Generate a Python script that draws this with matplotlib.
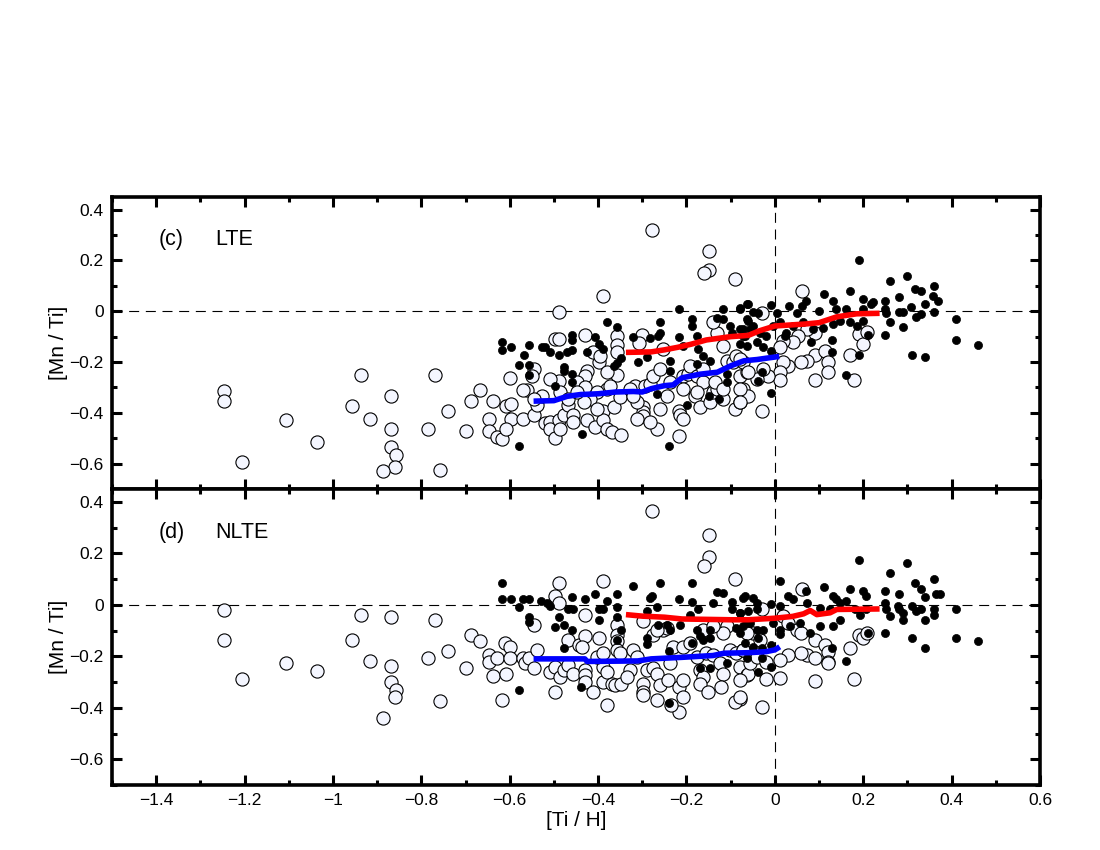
import matplotlib
matplotlib.use("Agg")
import matplotlib.pyplot as plt
from matplotlib.ticker import MultipleLocator, FuncFormatter

plt.rcParams['font.family'] = ['Liberation Sans', 'DejaVu Sans']

# ---------------- data: LTE panel (c) ----------------
lte_open = [
    (-1.247, -0.314), (-1.247, -0.353), (-1.205, -0.592), (-1.107, -0.430), (-1.037, -0.513),
    (-0.956, -0.373), (-0.937, -0.251), (-0.917, -0.424), (-0.868, -0.333), (-0.868, -0.463),
    (-0.868, -0.533), (-0.857, -0.565), (-0.859, -0.612), (-0.886, -0.631), (-0.786, -0.463),
    (-0.768, -0.251), (-0.757, -0.624), (-0.739, -0.392),
    (-0.279, 0.319), (-0.149, 0.239), (-0.149, 0.161), (-0.160, 0.150), (-0.090, 0.129),
    (-0.389, 0.059), (-0.488, -0.001), (-0.497, -0.111), (-0.488, -0.111), (-0.429, -0.092),
    (-0.358, -0.098), (-0.358, -0.131), (-0.358, -0.162), (-0.300, -0.092), (-0.308, -0.124),
    (-0.252, -0.149), (-0.399, -0.201), (-0.426, -0.234), (-0.430, -0.254), (-0.358, -0.250),
    (-0.448, -0.280), (-0.488, -0.276), (-0.546, -0.227), (-0.550, -0.254), (-0.561, -0.312),
    (-0.569, -0.312), (-0.599, -0.263), (-0.668, -0.312), (-0.688, -0.352), (-0.638, -0.352),
    (-0.608, -0.374), (-0.597, -0.365), (-0.597, -0.424), (-0.648, -0.424), (-0.648, -0.472),
    (-0.698, -0.472), (-0.629, -0.495), (-0.618, -0.502), (-0.608, -0.463), (-0.569, -0.424),
    (-0.546, -0.410), (-0.538, -0.371), (-0.520, -0.441), (-0.508, -0.437), (-0.508, -0.463),
    (-0.497, -0.498), (-0.488, -0.430), (-0.478, -0.410), (-0.467, -0.371), (-0.456, -0.408),
    (-0.486, -0.319), (-0.467, -0.345), (-0.426, -0.430), (-0.407, -0.454), (-0.388, -0.391),
    (-0.388, -0.430), (-0.380, -0.463), (-0.368, -0.476), (-0.349, -0.489), (-0.365, -0.378),
    (-0.380, -0.306), (-0.373, -0.293), (-0.350, -0.339), (-0.316, -0.293), (-0.294, -0.293),
    (-0.282, -0.286), (-0.298, -0.378), (-0.299, -0.397), (-0.299, -0.413), (-0.267, -0.463),
    (-0.260, -0.384), (-0.245, -0.332), (-0.218, -0.391), (-0.215, -0.410), (-0.207, -0.424),
    (-0.218, -0.491), (-0.207, -0.254), (-0.196, -0.247), (-0.181, -0.332), (-0.169, -0.378),
    (-0.147, -0.358), (-0.139, -0.319), (-0.132, -0.306), (-0.117, -0.345), (-0.090, -0.384),
    (-0.079, -0.358), (-0.072, -0.306), (-0.079, -0.254), (-0.064, -0.241), (-0.109, -0.195),
    (-0.094, -0.201), (-0.429, -0.299), (-0.403, -0.319), (-0.418, -0.345), (-0.328, -0.306),
    (-0.313, -0.358), (-0.275, -0.254), (-0.260, -0.227), (-0.237, -0.280), (-0.192, -0.214),
    (-0.177, -0.254), (-0.162, -0.280), (-0.136, -0.280), (-0.117, -0.306), (-0.162, -0.227),
    (-0.207, -0.306), (-0.177, -0.319), (-0.508, -0.267), (-0.527, -0.332), (-0.433, -0.358),
    (-0.403, -0.384), (-0.322, -0.332), (-0.380, -0.241), (-0.411, -0.162), (-0.395, -0.175),
    (-0.448, -0.319), (-0.312, -0.424), (-0.282, -0.437), (-0.486, -0.463), (-0.456, -0.437),
    (-0.546, -0.345), (-0.117, -0.136), (-0.132, -0.084), (-0.139, -0.044), (-0.072, -0.201),
    (-0.087, -0.175),
    (0.061, 0.080), (-0.030, -0.008), (0.090, -0.084), (0.072, -0.071), (0.053, -0.097),
    (0.041, -0.123), (0.019, -0.116), (0.011, -0.142), (0.090, -0.171), (0.113, -0.156),
    (0.121, -0.201), (0.121, -0.241), (0.072, -0.195), (0.060, -0.201), (0.030, -0.214),
    (0.019, -0.201), (0.011, -0.241), (0.011, -0.271), (0.090, -0.271), (0.170, -0.171),
    (0.179, -0.271), (0.191, -0.090), (0.200, -0.129), (0.209, -0.081), (-0.015, -0.254),
    (-0.026, -0.227), (-0.041, -0.267), (-0.060, -0.241), (-0.060, -0.332), (-0.079, -0.306),
    (-0.079, -0.358), (-0.030, -0.391), (-0.079, -0.188),
]
lte_filled = [
    (-0.618, -0.120), (-0.618, -0.152), (-0.597, -0.139), (-0.557, -0.132), (-0.567, -0.171),
    (-0.578, -0.210), (-0.557, -0.210), (-0.557, -0.250), (-0.528, -0.141), (-0.520, -0.141),
    (-0.508, -0.162), (-0.488, -0.171), (-0.471, -0.162), (-0.460, -0.154), (-0.478, -0.221),
    (-0.478, -0.234), (-0.460, -0.247), (-0.458, -0.093), (-0.458, -0.112), (-0.458, -0.280),
    (-0.426, -0.162), (-0.407, -0.101), (-0.398, -0.129), (-0.388, -0.149), (-0.379, -0.044),
    (-0.358, -0.061), (-0.358, -0.204), (-0.348, -0.184), (-0.363, -0.214), (-0.320, -0.101),
    (-0.309, -0.201), (-0.290, -0.182), (-0.282, -0.106), (-0.260, -0.044), (-0.260, -0.084),
    (-0.264, -0.097), (-0.237, -0.195), (-0.237, -0.234), (-0.218, 0.010), (-0.218, -0.101),
    (-0.207, -0.136), (-0.188, -0.031), (-0.188, -0.058), (-0.177, -0.097), (-0.173, -0.149),
    (-0.177, -0.208), (-0.162, -0.175), (-0.147, -0.195), (-0.132, -0.025), (-0.118, 0.010),
    (-0.118, -0.031), (-0.102, -0.058), (-0.098, -0.084), (-0.079, 0.010), (-0.078, -0.071),
    (-0.072, -0.097), (-0.064, 0.030), (-0.064, -0.031), (-0.064, -0.136), (-0.497, -0.293),
    (-0.437, -0.485), (-0.578, -0.532), (-0.239, -0.532), (-0.198, -0.371), (-0.148, -0.332),
    (-0.126, -0.345), (-0.109, -0.280), (-0.109, -0.247), (-0.079, -0.129), (-0.267, -0.325),
    (-0.056, -0.071),
    (0.190, 0.200), (0.260, 0.119), (0.300, 0.139), (0.318, 0.089), (0.330, 0.080),
    (0.360, 0.099), (0.358, 0.060), (0.370, 0.039), (0.340, 0.030), (0.280, 0.058),
    (0.250, 0.039), (0.221, 0.038), (0.200, 0.050), (0.170, 0.080), (0.131, 0.042),
    (0.111, 0.069), (0.070, 0.041), (0.061, 0.021), (0.031, 0.021), (-0.009, 0.024),
    (-0.060, 0.027), (-0.079, 0.012), (-0.049, -0.003), (-0.038, -0.005), (0.004, -0.005),
    (0.049, -0.005), (0.099, 0.000), (0.139, 0.008), (0.162, 0.010), (0.200, 0.008),
    (0.218, 0.027), (0.249, 0.008), (0.252, -0.005), (0.282, -0.003), (0.291, -0.003),
    (0.309, 0.018), (0.320, -0.022), (0.331, -0.012), (0.360, -0.001), (0.260, -0.041),
    (0.290, -0.061), (0.250, -0.092), (0.409, -0.031), (0.409, -0.112), (0.460, -0.132),
    (0.310, -0.171), (0.340, -0.182), (0.211, -0.093), (0.191, -0.171), (0.160, -0.251),
    (0.130, -0.162), (0.130, -0.112), (0.081, -0.123), (-0.009, -0.322), (-0.039, -0.273),
    (-0.029, -0.238), (-0.060, -0.038), (-0.049, -0.058), (-0.034, -0.084), (-0.019, -0.097),
    (-0.004, -0.058), (0.011, -0.044), (0.026, -0.084), (0.041, -0.058), (0.064, -0.044),
    (0.087, -0.071), (0.109, -0.064), (0.132, -0.051), (0.147, -0.038), (0.169, -0.044),
    (0.185, -0.058), (0.200, -0.038), (-0.072, -0.071), (-0.068, -0.097), (-0.041, -0.123),
    (-0.026, -0.142), (-0.008, -0.156), (0.023, -0.097),
]
lte_red_x = [-0.337, -0.28, -0.25, -0.22, -0.19, -0.155, -0.10, -0.06, -0.035, 0.0, 0.07, 0.10, 0.14, 0.185, 0.237]
lte_red_y = [-0.162, -0.160, -0.152, -0.142, -0.130, -0.113, -0.100, -0.095, -0.077, -0.058, -0.050, -0.045, -0.022, -0.010, -0.008]
lte_blue_x = [-0.546, -0.50, -0.47, -0.44, -0.40, -0.36, -0.32, -0.30, -0.28, -0.25, -0.23, -0.21, -0.17, -0.13, -0.10, -0.07, -0.04, -0.02, 0.01]
lte_blue_y = [-0.354, -0.352, -0.335, -0.328, -0.325, -0.318, -0.316, -0.318, -0.305, -0.293, -0.290, -0.262, -0.248, -0.240, -0.215, -0.195, -0.190, -0.185, -0.178]

# ---------------- data: NLTE panel (d) ----------------
nlte_open = [
    (-1.247, -0.020), (-1.247, -0.137), (-1.205, -0.290), (-1.107, -0.227), (-1.037, -0.259),
    (-0.956, -0.137), (-0.937, -0.039), (-0.917, -0.220), (-0.868, -0.047), (-0.868, -0.239),
    (-0.868, -0.298), (-0.857, -0.329), (-0.859, -0.360), (-0.886, -0.440), (-0.786, -0.208),
    (-0.768, -0.059), (-0.757, -0.373), (-0.739, -0.180),
    (-0.279, 0.363), (-0.149, 0.273), (-0.149, 0.184), (-0.160, 0.152), (-0.090, 0.102),
    (-0.389, 0.093), (-0.488, 0.084), (-0.497, 0.034), (-0.488, 0.008), (-0.429, -0.038),
    (-0.399, -0.129), (-0.358, -0.077), (-0.358, -0.116), (-0.358, -0.142), (-0.298, -0.064),
    (-0.275, -0.116), (-0.252, -0.097), (-0.546, -0.077), (-0.467, -0.136), (-0.443, -0.156),
    (-0.430, -0.123), (-0.688, -0.119), (-0.668, -0.139), (-0.698, -0.247), (-0.648, -0.195),
    (-0.648, -0.221), (-0.629, -0.208), (-0.610, -0.149), (-0.599, -0.162), (-0.599, -0.208),
    (-0.638, -0.277), (-0.608, -0.269), (-0.618, -0.369), (-0.569, -0.208), (-0.565, -0.227),
    (-0.557, -0.208), (-0.546, -0.247), (-0.538, -0.175), (-0.508, -0.260), (-0.497, -0.241),
    (-0.486, -0.280), (-0.478, -0.254), (-0.467, -0.234), (-0.457, -0.267), (-0.497, -0.339),
    (-0.437, -0.162), (-0.429, -0.254), (-0.429, -0.273), (-0.429, -0.299), (-0.411, -0.339),
    (-0.388, -0.241), (-0.388, -0.299), (-0.380, -0.260), (-0.369, -0.306), (-0.361, -0.312),
    (-0.348, -0.306), (-0.379, -0.388), (-0.358, -0.175), (-0.350, -0.188), (-0.320, -0.175),
    (-0.312, -0.201), (-0.298, -0.306), (-0.298, -0.339), (-0.298, -0.352), (-0.290, -0.254),
    (-0.275, -0.247), (-0.267, -0.267), (-0.260, -0.312), (-0.267, -0.369), (-0.241, -0.293),
    (-0.237, -0.227), (-0.218, -0.319), (-0.207, -0.358), (-0.207, -0.293), (-0.218, -0.417),
    (-0.234, -0.391), (-0.230, -0.162), (-0.207, -0.162), (-0.192, -0.149), (-0.169, -0.254),
    (-0.162, -0.280), (-0.169, -0.306), (-0.151, -0.339), (-0.177, -0.201), (-0.155, -0.188),
    (-0.139, -0.195), (-0.124, -0.227), (-0.117, -0.267), (-0.121, -0.319), (-0.102, -0.175),
    (-0.087, -0.188), (-0.072, -0.175), (-0.079, -0.241), (-0.064, -0.273), (-0.079, -0.365),
    (-0.090, -0.378), (-0.109, -0.084), (-0.117, -0.110), (-0.162, -0.097), (-0.139, -0.084),
    (-0.245, -0.090), (-0.267, -0.097), (-0.328, -0.254), (-0.335, -0.280), (-0.403, -0.201),
    (-0.388, -0.188),
    (0.061, 0.063), (-0.030, -0.018), (0.019, -0.044), (0.030, -0.071), (0.049, -0.097),
    (0.060, -0.110), (0.090, -0.136), (0.113, -0.156), (0.121, -0.182), (0.121, -0.221),
    (0.121, -0.227), (0.072, -0.195), (0.060, -0.188), (0.090, -0.208), (0.030, -0.195),
    (0.011, -0.214), (0.011, -0.286), (0.090, -0.297), (0.179, -0.289), (0.170, -0.166),
    (0.191, -0.116), (0.200, -0.129), (0.209, -0.110), (-0.019, -0.289), (-0.060, -0.267),
    (-0.079, -0.293), (-0.079, -0.358), (-0.030, -0.397), (-0.057, -0.227), (-0.041, -0.201),
    (-0.072, -0.175), (-0.019, -0.221), (-0.049, -0.110), (-0.034, -0.136), (-0.064, -0.110),
]
nlte_filled = [
    (-0.618, 0.084), (-0.618, 0.022), (-0.597, 0.022), (-0.569, 0.022), (-0.557, 0.022),
    (-0.578, -0.009), (-0.557, -0.047), (-0.557, -0.068), (-0.529, 0.013), (-0.516, 0.008),
    (-0.508, -0.003), (-0.488, -0.048), (-0.497, -0.088), (-0.478, -0.077), (-0.467, -0.018),
    (-0.457, -0.018), (-0.458, 0.031), (-0.458, -0.097), (-0.478, -0.169), (-0.429, 0.022),
    (-0.408, 0.044), (-0.398, -0.018), (-0.388, -0.018), (-0.398, -0.058), (-0.379, 0.013),
    (-0.358, 0.043), (-0.358, -0.008), (-0.358, -0.048), (-0.348, -0.097), (-0.358, -0.136),
    (-0.320, 0.072), (-0.290, -0.025), (-0.282, 0.027), (-0.277, 0.034), (-0.267, -0.008),
    (-0.260, 0.084), (-0.264, -0.077), (-0.245, -0.077), (-0.237, -0.097), (-0.290, -0.129),
    (-0.290, -0.152), (-0.218, 0.022), (-0.214, -0.077), (-0.188, 0.084), (-0.188, 0.012),
    (-0.192, -0.038), (-0.173, -0.018), (-0.169, -0.123), (-0.177, -0.097), (-0.162, -0.136),
    (-0.147, -0.129), (-0.147, -0.097), (-0.132, 0.051), (-0.118, 0.047), (-0.139, 0.008),
    (-0.098, 0.012), (-0.098, -0.018), (-0.079, -0.031), (-0.068, 0.034), (-0.064, -0.071),
    (-0.079, -0.110), (-0.087, -0.090), (-0.578, -0.329), (-0.438, -0.319), (-0.239, -0.380),
    (-0.188, -0.149), (-0.169, -0.247), (-0.147, -0.247), (-0.109, -0.227), (-0.239, -0.178),
    (0.190, 0.173), (0.300, 0.162), (0.260, 0.123), (0.318, 0.084), (0.330, 0.063),
    (0.360, 0.102), (0.365, 0.041), (0.373, 0.041), (0.340, 0.031), (0.280, 0.041),
    (0.250, 0.054), (0.200, 0.054), (0.207, 0.034), (0.170, 0.063), (0.132, 0.034),
    (0.139, 0.021), (0.111, 0.071), (0.070, 0.054), (0.011, 0.093), (0.041, 0.021),
    (0.030, 0.034), (-0.008, 0.005), (0.011, -0.005), (-0.072, 0.027), (-0.049, 0.027),
    (-0.041, 0.008), (-0.079, -0.031), (-0.060, -0.025), (-0.041, -0.018), (0.072, 0.008),
    (0.102, -0.012), (0.124, -0.018), (0.147, 0.008), (0.162, 0.014), (0.181, -0.018),
    (0.207, -0.018), (0.192, -0.038), (0.250, 0.008), (0.252, -0.018), (0.282, -0.018),
    (0.291, -0.031), (0.278, -0.005), (0.310, -0.005), (0.320, -0.025), (0.331, -0.018),
    (0.360, -0.018), (0.360, -0.038), (0.260, -0.044), (0.290, -0.058), (0.340, -0.058),
    (0.409, -0.018), (0.409, -0.129), (0.460, -0.139), (0.310, -0.129), (0.340, -0.169),
    (0.250, -0.110), (0.211, -0.110), (0.160, -0.218), (0.130, -0.169), (0.147, -0.058),
    (0.132, -0.084), (0.102, -0.084), (0.079, -0.110), (0.056, -0.071), (0.034, -0.084),
    (0.011, -0.097), (-0.004, -0.071), (-0.026, -0.097), (-0.041, -0.097), (-0.056, -0.071),
    (-0.072, -0.084), (0.011, -0.112), (-0.038, -0.129), (-0.049, -0.162), (-0.030, -0.169),
    (-0.008, -0.158), (-0.009, -0.241), (-0.039, -0.260), (-0.029, -0.208), (-0.064, -0.208),
    (-0.068, -0.149),
]
nlte_red_x = [-0.337, -0.30, -0.25, -0.21, -0.10, -0.06, 0.0, 0.04, 0.065, 0.08, 0.095, 0.125, 0.14, 0.237]
nlte_red_y = [-0.038, -0.044, -0.048, -0.055, -0.058, -0.058, -0.052, -0.045, -0.035, -0.022, -0.038, -0.031, -0.018, -0.016]
nlte_blue_x = [-0.546, -0.43, -0.425, -0.31, -0.28, -0.21, -0.14, -0.115, -0.06, -0.02, 0.0, 0.011]
nlte_blue_y = [-0.210, -0.210, -0.220, -0.218, -0.210, -0.204, -0.197, -0.188, -0.186, -0.182, -0.175, -0.163]

panel_tags = ["(c)", "(d)"]
panel_names = ["LTE", "NLTE"]

# ---------------- figure ----------------
fig = plt.figure(figsize=(11, 8.5), dpi=100)
left, right = 112 / 1100, 1040 / 1100
top, mid, bottom = 1 - 197 / 850, 1 - 489 / 850, 1 - 785 / 850
ax1 = fig.add_axes([left, mid, right - left, top - mid])
ax2 = fig.add_axes([left, bottom, right - left, mid - bottom], sharex=ax1)


def fmt(v, pos):
    if abs(v) < 1e-9:
        return "0"
    s = ("%.1f" % v).rstrip("0").rstrip(".")
    return s.replace("-", "\u2212")


datasets = [(lte_open, lte_filled, lte_red_x, lte_red_y, lte_blue_x, lte_blue_y),
            (nlte_open, nlte_filled, nlte_red_x, nlte_red_y, nlte_blue_x, nlte_blue_y)]

for i, (ax, d) in enumerate(zip([ax1, ax2], datasets)):
    op, fi, rx, ry, bx, by = d
    ax.axhline(0, color="black", lw=0.8, ls=(0, (9, 6)), zorder=1)
    ax.axvline(0, color="black", lw=0.8, ls=(0, (9, 6)), zorder=1)
    ax.scatter([p[0] for p in op], [p[1] for p in op], s=90, facecolor="#f4f6ff",
               edgecolor="black", linewidth=0.8, zorder=2)
    ax.scatter([p[0] for p in fi], [p[1] for p in fi], s=34, facecolor="black",
               edgecolor="black", linewidth=0.5, zorder=3)
    ax.plot(rx, ry, color="#ff0000", lw=4, solid_capstyle="butt", zorder=4)
    ax.plot(bx, by, color="#0000ff", lw=4, solid_capstyle="butt", zorder=4)

    ax.set_xlim(-1.5, 0.6)
    ax.set_ylim(-0.7, 0.45)
    ax.xaxis.set_major_locator(MultipleLocator(0.2))
    ax.xaxis.set_minor_locator(MultipleLocator(0.1))
    ax.yaxis.set_major_locator(MultipleLocator(0.2))
    ax.yaxis.set_minor_locator(MultipleLocator(0.1))
    ax.yaxis.set_major_formatter(FuncFormatter(fmt))
    ax.xaxis.set_major_formatter(FuncFormatter(fmt))
    ax.tick_params(which="both", direction="in", top=True, right=True)
    ax.tick_params(which="major", length=7, width=2.2, labelsize=12.5, pad=6)
    ax.tick_params(which="minor", length=3.5, width=2.2)
    for sp in ax.spines.values():
        sp.set_linewidth(2.6)
    ax.set_ylabel("[Mn / Ti]", fontsize=15)
    ax.yaxis.set_label_coords(-0.047, 0.5)
    ax.text(0.05, 0.835, panel_tags[i], transform=ax.transAxes, fontsize=15.5, va="baseline")
    ax.text(0.111, 0.835, panel_names[i], transform=ax.transAxes, fontsize=15.5, va="baseline")

ax1.tick_params(axis="x", labelbottom=False)
ax2.set_xlabel("[Ti / H]", fontsize=15, labelpad=2)

fig.savefig("out.png", dpi=100)
